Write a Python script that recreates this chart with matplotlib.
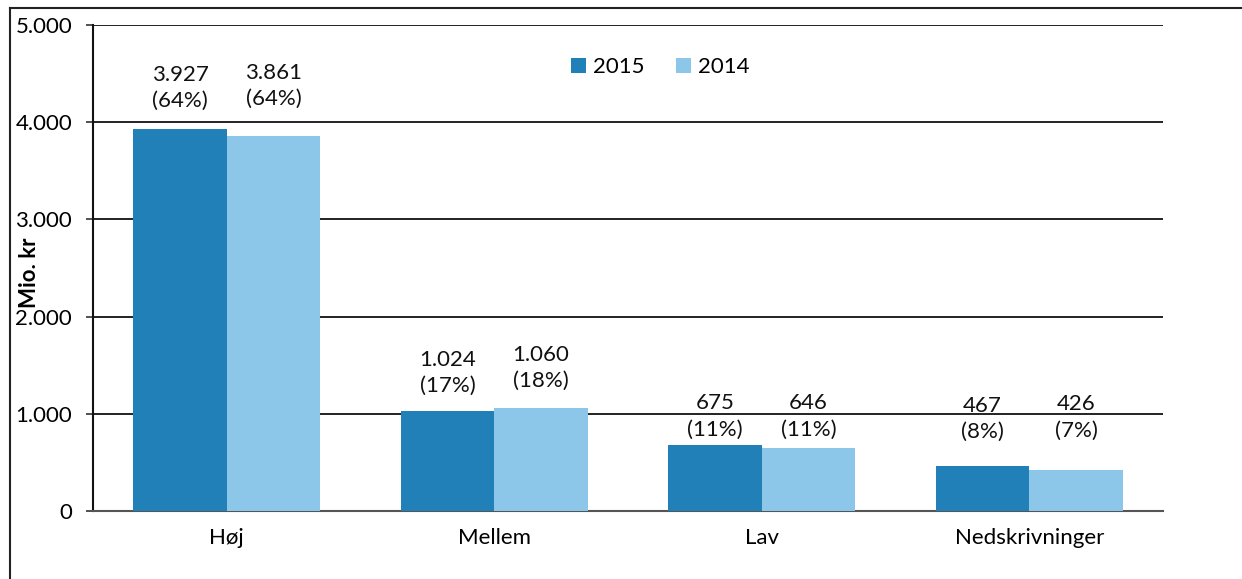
import numpy as np
import matplotlib.pyplot as plt
from matplotlib.lines import Line2D

categories = ["Høj", "Mellem", "Lav", "Nedskrivninger"]
values_2015 = [3927, 1024, 675, 467]
values_2014 = [3861, 1060, 646, 426]
labels_2015 = ["3.927\n(64%)", "1.024\n(17%)", "675\n(11%)", "467\n(8%)"]
labels_2014 = ["3.861\n(64%)", "1.060\n(18%)", "646\n(11%)", "426\n(7%)"]
yticks = [0, 1000, 2000, 3000, 4000, 5000]
ytick_labels = ["0", "1.000", "2.000", "3.000", "4.000", "5.000"]

# gap (points) between bar top and its data label, as placed in the original
gap_2015 = [13, 11, 4, 17]
gap_2014 = [19, 12, 6, 21]

c2015 = "#2180b8"
c2014 = "#8cc7ea"

plt.rcParams["font.family"] = ["Lato", "DejaVu Sans"]

fig = plt.figure(figsize=(12.42, 5.79), dpi=100)
ax = fig.add_axes([0.0749, 0.1174, 0.8615, 0.8394])

x = np.arange(len(categories))
w = 0.35
b1 = ax.bar(x - w / 2, values_2015, w, color=c2015, label="2015", zorder=3)
b2 = ax.bar(x + w / 2, values_2014, w, color=c2014, label="2014", zorder=3)

for bars, labs, gaps in ((b1, labels_2015, gap_2015), (b2, labels_2014, gap_2014)):
    for rect, lab, g in zip(bars, labs, gaps):
        ax.annotate(lab, (rect.get_x() + rect.get_width() / 2, rect.get_height()),
                    xytext=(0, g), textcoords="offset points",
                    ha="center", va="bottom", fontsize=16, linespacing=1.4,
                    color="#111111", zorder=4)

ax.set_xlim(-0.5, len(categories) - 0.5)
ax.set_ylim(0, 5000)
ax.set_yticks(yticks)
ax.set_yticklabels(ytick_labels, fontsize=16)
ax.set_xticks(x)
ax.set_xticklabels(categories, fontsize=16)
ax.tick_params(axis="x", length=0, pad=12)
ax.tick_params(axis="y", length=5, width=1.2, color="#333333", pad=10)
ax.yaxis.grid(True, color="#111111", linewidth=1.3, zorder=0)

for s in ("top", "right"):
    ax.spines[s].set_visible(False)
ax.spines["left"].set_color("#111111")
ax.spines["left"].set_linewidth(1.5)
ax.spines["bottom"].set_color("#555555")
ax.spines["bottom"].set_linewidth(1.5)

ax.set_ylabel("Mio. kr", fontsize=16, fontweight="bold")
ax.yaxis.set_label_coords(-0.05, 0.49)

ax.legend(loc="upper center", bbox_to_anchor=(0.53, 0.975), ncol=2, frameon=False,
          fontsize=16, handlelength=0.7, handleheight=0.7, handletextpad=0.3,
          columnspacing=1.4)

# scanned frame lines
fig.add_artist(Line2D([0.008, 1.0], [0.986, 0.986], color="#222222", linewidth=1.5))
fig.add_artist(Line2D([0.008, 0.008], [0.0, 0.986], color="#222222", linewidth=1.5))

fig.savefig("out.png", dpi=100)
